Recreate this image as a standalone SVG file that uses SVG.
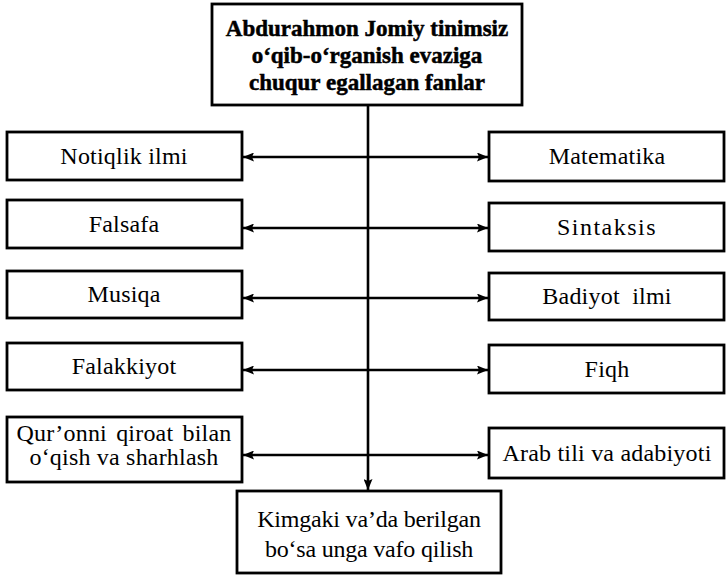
<svg xmlns="http://www.w3.org/2000/svg" width="727" height="579" viewBox="0 0 727 579">
<style>
.box{fill:#fff;stroke:#000;stroke-width:2.8}
.t{font-family:"Liberation Serif","Times New Roman",serif;font-size:24px;fill:#000;text-anchor:middle;letter-spacing:0.2px}
.b{font-family:"Liberation Serif","Times New Roman",serif;font-size:23px;font-weight:bold;fill:#000;stroke:#000;stroke-width:0.5;text-anchor:middle}
.ln{stroke:#000;stroke-width:2.6;fill:none}
</style>
<defs>
<marker id="ah" viewBox="0 0 11 9" refX="11" refY="4.5" markerWidth="11" markerHeight="9" markerUnits="userSpaceOnUse" orient="auto-start-reverse">
<path d="M0,0 L11,4.5 L0,9 L2,4.5 z" fill="#000"/>
</marker>
</defs>
<rect width="727" height="579" fill="#fff"/>
<g id="connectors">
<line class="ln" x1="368" y1="105" x2="368" y2="490" marker-end="url(#ah)"/>
<line class="ln" x1="243" y1="157" x2="488" y2="157" marker-start="url(#ah)" marker-end="url(#ah)"/>
<line class="ln" x1="243" y1="228" x2="488" y2="228" marker-start="url(#ah)" marker-end="url(#ah)"/>
<line class="ln" x1="243" y1="298" x2="488" y2="298" marker-start="url(#ah)" marker-end="url(#ah)"/>
<line class="ln" x1="243" y1="370" x2="488" y2="370" marker-start="url(#ah)" marker-end="url(#ah)"/>
<line class="ln" x1="243" y1="455" x2="488" y2="455" marker-start="url(#ah)" marker-end="url(#ah)"/>
</g>
<g id="top">
<rect class="box" x="212" y="4" width="310" height="101"/>
<text class="b" x="367" y="36">Abdurahmon Jomiy tinimsiz</text>
<text class="b" x="367" y="63">o‘qib-o‘rganish evaziga</text>
<text class="b" x="367" y="90">chuqur egallagan fanlar</text>
</g>
<g id="notiqlik">
<rect class="box" x="7" y="132" width="235" height="48"/>
<text class="t" x="124" y="164">Notiqlik ilmi</text>
</g>
<g id="matematika">
<rect class="box" x="489" y="132" width="235" height="49"/>
<text class="t" x="607" y="164">Matematika</text>
</g>
<g id="falsafa">
<rect class="box" x="7" y="200" width="235" height="48"/>
<text class="t" x="124" y="232">Falsafa</text>
</g>
<g id="sintaksis">
<rect class="box" x="489" y="203" width="235" height="48"/>
<text class="t" x="607" y="235" style="letter-spacing:1.5px">Sintaksis</text>
</g>
<g id="musiqa">
<rect class="box" x="7" y="271" width="235" height="47"/>
<text class="t" x="124" y="302">Musiqa</text>
</g>
<g id="badiyot">
<rect class="box" x="489" y="273" width="235" height="47"/>
<text class="t" x="607" y="304" xml:space="preserve">Badiyot  ilmi</text>
</g>
<g id="falakkiyot">
<rect class="box" x="7" y="343" width="235" height="47"/>
<text class="t" x="124" y="374">Falakkiyot</text>
</g>
<g id="fiqh">
<rect class="box" x="489" y="345" width="235" height="48"/>
<text class="t" x="607" y="377">Fiqh</text>
</g>
<g id="quron">
<rect class="box" x="7" y="417" width="235" height="65"/>
<text class="t" x="124" y="441" style="word-spacing:3px">Qur’onni qiroat bilan</text>
<text class="t" x="124" y="465">o‘qish va sharhlash</text>
</g>
<g id="arab">
<rect class="box" x="489" y="428" width="235" height="50"/>
<text class="t" x="607" y="461">Arab tili va adabiyoti</text>
</g>
<g id="bottom">
<rect class="box" x="237" y="491" width="264" height="82"/>
<text class="t" x="369" y="527" style="letter-spacing:-0.2px">Kimgaki va’da berilgan</text>
<text class="t" x="369" y="557" style="letter-spacing:-0.2px">bo‘sa unga vafo qilish</text>
</g>
</svg>
